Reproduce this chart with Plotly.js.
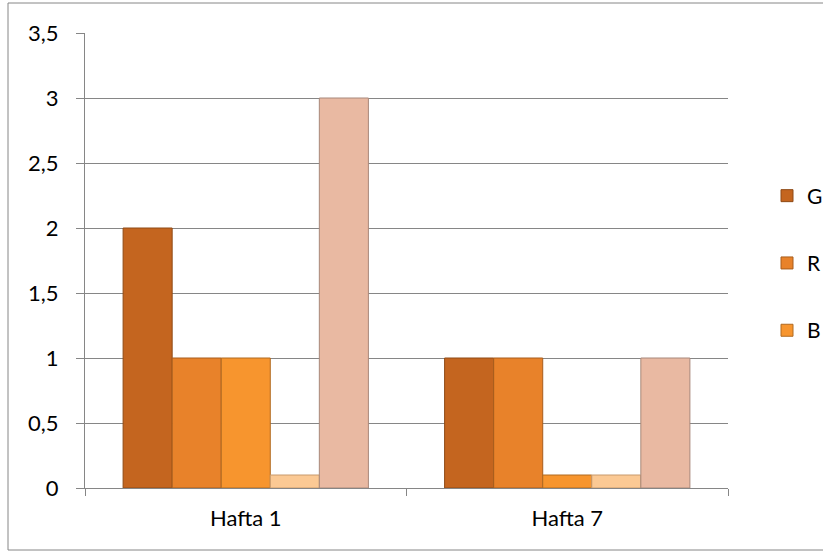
<!DOCTYPE html>
<html><head><meta charset="utf-8">
<script src="https://cdn.plot.ly/plotly-3.0.1.min.js"></script>
<style>html,body{margin:0;padding:0;background:#fff}#c{width:823px;height:553px}</style>
</head><body><div id="c"></div>
<script>
const categories = ["Hafta 1", "Hafta 7"];
const seriesNames = ["G", "R", "B", "S4", "S5"];
const s1 = [2, 1];
const s2 = [1, 1];
const s3 = [1, 0.1];
const s4 = [0.1, 0.1];
const s5 = [3, 1];
const colors = ["#c4651f", "#e8822a", "#f7952e", "#fbc994", "#e9b9a2"];
const lines = ["#8f4a16", "#a85d1d", "#b06a20", "#c89a6c", "#a8887a"];
const values = [s1, s2, s3, s4, s5];

const traces = values.map((v, i) => ({
  type: "bar", x: categories, y: v, name: seriesNames[i],
  marker: {color: colors[i], line: {color: lines[i], width: 1}},
  showlegend: i < 3, legendgroup: "g" + i, hoverinfo: "none"
}));

const L = 85, R = 728, T = 33, B = 488, W = 823, H = 553;
const px = v => (v - L) / (R - L);
const py = v => (B - v) / (B - T);

const layout = {
  width: W, height: H,
  margin: {l: L, r: W - R, t: T, b: H - B, pad: 0, autoexpand: false},
  paper_bgcolor: "#fff", plot_bgcolor: "#fff",
  separators: ", ",
  font: {family: "Lato, 'Open Sans', sans-serif", size: 22, color: "#000"},
  barmode: "group", bargap: 0.237, bargroupgap: 0,
  xaxis: {
    type: "category", tickson: "boundaries", ticks: "outside", ticklen: 7,
    tickcolor: "#868686", showline: true, linecolor: "#868686", linewidth: 1,
    showgrid: false, ticklabelstandoff: 11, tickfont: {size: 22}, automargin: false
  },
  yaxis: {
    range: [0, 3.5], dtick: 0.5, tick0: 0, ticks: "outside", ticklen: 8,
    tickcolor: "#868686", showline: true, linecolor: "#868686", linewidth: 1,
    showgrid: true, gridcolor: "#868686", gridwidth: 1, zeroline: false,
    ticklabelstandoff: 13, tickfont: {size: 22}, automargin: false
  },
  legend: {
    x: px(767), xanchor: "left", y: py(263), yanchor: "middle",
    font: {size: 21}, tracegroupgap: 37, itemwidth: 30,
    bgcolor: "rgba(0,0,0,0)"
  },
  shapes: [{
    type: "rect", xref: "paper", yref: "paper", layer: "below",
    x0: px(8), x1: px(830), y0: py(550), y1: py(3),
    line: {color: "#868686", width: 1}, fillcolor: "rgba(0,0,0,0)"
  }]
};
Plotly.newPlot("c", traces, layout, {displayModeBar: false, staticPlot: true});
</script></body></html>
